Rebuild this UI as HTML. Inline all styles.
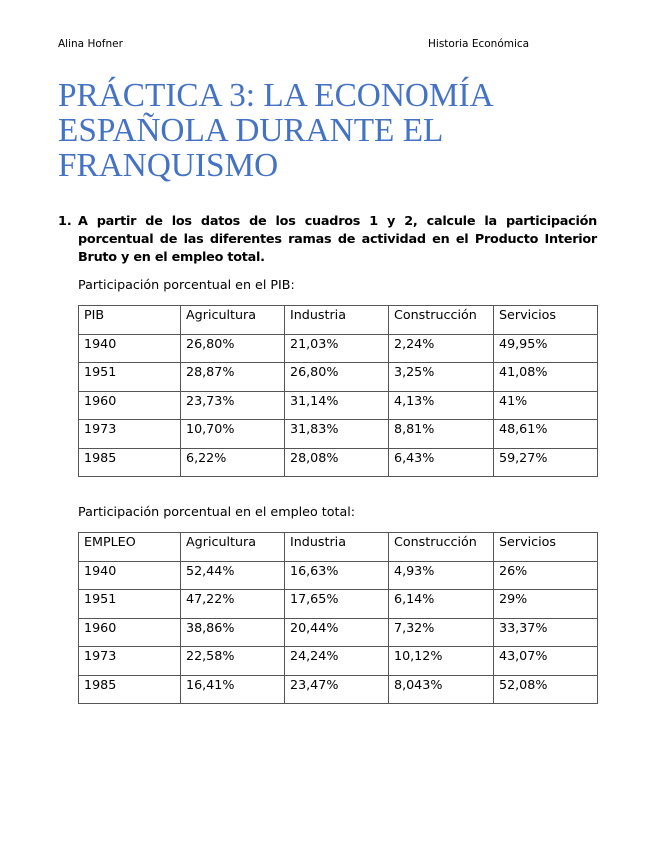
<!DOCTYPE html>
<html><head><meta charset="utf-8"><style>
body{margin:0;width:655px;height:848px;background:#fff;position:relative;font-family:"DejaVu Sans","Liberation Sans",sans-serif;color:#000;}
.a{position:absolute;white-space:nowrap}
.h{font-size:10.5px;top:38px}
.t{left:58px;font-family:"Liberation Serif","DejaVu Serif",serif;font-size:33.3px;color:#4472c4;line-height:35px;top:78px}
.q{left:78px;top:213px;width:519px;font-size:12.8px;letter-spacing:-0.25px;font-weight:bold;line-height:18px;text-align:justify;position:absolute}
.n{left:58px;top:213px;font-size:12.8px;font-weight:bold;line-height:18px}
.c{font-size:12.7px;}
table{position:absolute;left:78px;border-collapse:collapse;font-size:12.7px}
td{border:1px solid #555;width:92px;padding:0 5px;vertical-align:top;line-height:15px;box-sizing:border-box;height:28.5px;padding-top:1px}
</style></head><body>
<div class="a h" style="left:58px">Alina Hofner</div>
<div class="a h" style="left:428px">Historia Económica</div>
<div class="a t">PRÁCTICA 3: LA ECONOMÍA<br>ESPAÑOLA DURANTE EL<br>FRANQUISMO</div>
<div class="a n">1.</div>
<div class="q">A partir de los datos de los cuadros 1 y 2, calcule la participación porcentual de las diferentes ramas de actividad en el Producto Interior Bruto y en el empleo total.</div>
<div class="a c" style="left:78px;top:277px">Participación porcentual en el PIB:</div>
<table style="top:305px">
<tr><td style="width:102px">PIB</td><td style="width:104px">Agricultura</td><td style="width:104px">Industria</td><td style="width:105px">Construcción</td><td style="width:104px">Servicios</td></tr>
<tr><td>1940</td><td>26,80%</td><td>21,03%</td><td>2,24%</td><td>49,95%</td></tr>
<tr><td>1951</td><td>28,87%</td><td>26,80%</td><td>3,25%</td><td>41,08%</td></tr>
<tr><td>1960</td><td>23,73%</td><td>31,14%</td><td>4,13%</td><td>41%</td></tr>
<tr><td>1973</td><td>10,70%</td><td>31,83%</td><td>8,81%</td><td>48,61%</td></tr>
<tr><td>1985</td><td>6,22%</td><td>28,08%</td><td>6,43%</td><td>59,27%</td></tr>
</table>
<div class="a c" style="left:78px;top:504px">Participación porcentual en el empleo total:</div>
<table style="top:532px">
<tr><td style="width:102px">EMPLEO</td><td style="width:104px">Agricultura</td><td style="width:104px">Industria</td><td style="width:105px">Construcción</td><td style="width:104px">Servicios</td></tr>
<tr><td>1940</td><td>52,44%</td><td>16,63%</td><td>4,93%</td><td>26%</td></tr>
<tr><td>1951</td><td>47,22%</td><td>17,65%</td><td>6,14%</td><td>29%</td></tr>
<tr><td>1960</td><td>38,86%</td><td>20,44%</td><td>7,32%</td><td>33,37%</td></tr>
<tr><td>1973</td><td>22,58%</td><td>24,24%</td><td>10,12%</td><td>43,07%</td></tr>
<tr><td>1985</td><td>16,41%</td><td>23,47%</td><td>8,043%</td><td>52,08%</td></tr>
</table>
</body></html>
